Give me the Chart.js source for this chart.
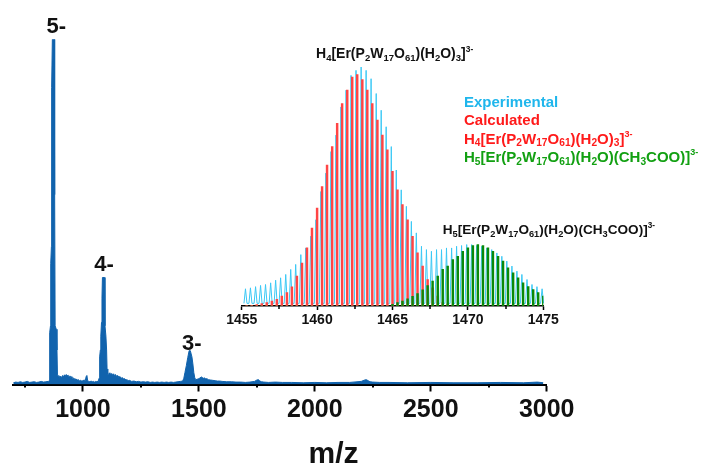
<!DOCTYPE html>
<html><head><meta charset="utf-8">
<script src="https://cdn.jsdelivr.net/npm/chart.js@4.4.1/dist/chart.umd.min.js"></script>
<style>
html,body{margin:0;padding:0;background:#fff;}
#wrap{position:relative;width:707px;height:465px;overflow:hidden;background:#fff;}
#main{position:absolute;left:0;top:0;width:707px;height:465px;}
#inset{position:absolute;left:215px;top:40px;width:360px;height:300px;}
.f{position:absolute;font-family:"Liberation Sans",Arial,sans-serif;font-weight:bold;white-space:nowrap;}
.f .sb{position:relative;font-size:0.68em;top:0.28em;line-height:1;}
.f .sp{position:relative;font-size:0.6em;top:-0.75em;line-height:1;}
</style></head><body>
<div id="wrap">
<canvas id="main" width="707" height="465"></canvas>
<canvas id="inset" width="360" height="300"></canvas>
</div>
<script>
// ---- main spectrum (m/z, relative intensity %) ----
const specMz = [700,710,720,730,740,750,760,770,780,790,800,810,820,830,840,850,854,856,857,860,861,864,865,868,876,878,880,885,888,890,893,896,900,904,908,912,916,920,924,928,932,936,940,944,948,952,956,960,965,970,975,980,985,990,995,1000,1005,1010,1014,1017,1020,1025,1030,1035,1040,1045,1050,1055,1060,1065,1068,1071,1072,1075,1077,1080,1082,1084,1093,1095,1099,1102,1104,1107,1112,1116,1120,1124,1128,1132,1136,1140,1145,1150,1155,1160,1165,1170,1175,1180,1185,1190,1195,1200,1210,1220,1230,1240,1250,1260,1270,1280,1290,1300,1310,1320,1330,1340,1350,1360,1370,1380,1390,1400,1410,1420,1430,1435,1440,1446,1452,1458,1463,1470,1474,1478,1482,1486,1492,1500,1505,1510,1515,1520,1525,1530,1535,1540,1550,1560,1570,1580,1590,1600,1620,1640,1660,1680,1700,1720,1740,1750,1757,1763,1770,1780,1800,1830,1860,1900,1950,2000,2050,2100,2150,2200,2215,2222,2230,2238,2250,2280,2320,2400,2500,2600,2700,2800,2900,2960,2985,3000];
const specInt = [0.5,0.7,0.6,0.8,0.6,0.7,0.9,0.6,0.7,0.8,0.6,0.7,0.9,0.7,0.8,0.9,1.0,3,15,17,35,40,86,100,100,55,17,16,10,3,2.2,2.6,2.0,2.4,2.0,2.6,2.2,2.8,2.4,2.9,2.5,2.7,2.2,2.5,1.9,2.3,1.7,1.9,1.5,1.6,1.3,1.4,1.1,1.2,1.0,1.1,1.3,1.1,2.4,2.6,1.2,0.9,0.8,1.0,0.8,0.9,0.7,0.9,0.8,0.9,0.9,2,8,10,14,18,25,31,31,17,14,10,4.5,3,3.0,3.4,2.8,3.2,2.7,3.1,2.6,2.9,2.4,2.6,2.1,2.3,1.8,2.0,1.6,1.7,1.3,1.4,1.1,1.2,0.9,1.0,0.8,0.9,0.7,0.8,0.7,0.8,0.6,0.7,0.6,0.7,0.6,0.7,0.6,0.7,0.6,0.7,0.6,0.7,0.8,0.9,1.0,1.8,3.5,5.5,7.8,9.8,9.8,8,6,3.5,2.0,1.4,1.5,1.7,1.9,2.2,2.0,1.8,1.9,1.6,1.7,1.4,1.3,1.2,1.1,1.0,1.0,0.9,0.8,0.8,0.7,0.7,0.6,0.7,0.9,1.3,1.4,1.0,0.8,0.7,0.6,0.7,0.6,0.6,0.5,0.6,0.5,0.6,0.6,0.9,1.3,1.4,1.1,0.8,0.7,0.6,0.6,0.5,0.6,0.5,0.5,0.6,0.5,0.7,0.5];
const majorTicks = [1000,1500,2000,2500,3000];
const minorTicks = [750,1250,1750,2250,2750];
const peakLabels = ['5-','4-','3-'];
const peakLabelMz = [885,1091,1469];

// ---- inset: isotopic pattern ----
const isoMz = [1455.25,1455.58,1455.92,1456.25,1456.58,1456.92,1457.25,1457.58,1457.92,1458.25,1458.58,1458.92,1459.25,1459.58,1459.92,1460.25,1460.58,1460.92,1461.25,1461.58,1461.92,1462.25,1462.58,1462.92,1463.25,1463.58,1463.92,1464.25,1464.58,1464.92,1465.25,1465.58,1465.92,1466.25,1466.58,1466.92,1467.25,1467.58,1467.92,1468.25,1468.58,1468.92,1469.25,1469.58,1469.92,1470.25,1470.58,1470.92,1471.25,1471.58,1471.92,1472.25,1472.58,1472.92,1473.25,1473.58,1473.92,1474.25,1474.58,1474.92];
const expInt = [7.2,7.6,8.1,8.6,9.0,9.7,10.8,11.8,13.2,15.3,17.4,21.5,24.3,29.2,36.1,47.9,55.6,64.6,71.5,83.3,90.3,96.5,98.6,100,98.6,95.1,88.9,81.9,75.0,66.7,56.9,48.6,41.7,35.4,30.6,25.0,23.6,22.9,23.6,23.6,24.3,24.3,25.0,25.3,25.7,25.7,25.3,25.0,24.3,23.6,22.2,20.8,18.8,16.7,14.6,13.2,11.1,9.0,8.1,7.2];
const calcH4 = [0.2,0.3,0.6,1.0,1.4,2.1,2.8,4.2,5.6,8.0,12.5,18.0,24.3,32.6,41.0,50.0,59.0,66.7,76.4,84.7,90.3,95.8,96.8,94.7,90.3,84.7,77.8,71.5,65.3,56.3,48.6,42.4,36.1,29.2,22.2,16.7,11.1,7.6,4.2,1.4,0.8,0.4,0,0,0,0,0,0,0,0,0,0,0,0,0,0,0,0,0,0];
const calcH5 = [0,0,0,0,0,0,0,0,0,0,0,0,0,0,0,0,0,0,0,0,0,0,0,0,0,0,0,0,0,0.7,1.4,2.1,3.0,4.0,5.2,6.8,8.5,10.4,12.5,15.3,16.7,19.4,20.8,22.9,24.3,25.3,25.7,25.3,24.3,22.9,20.8,18.8,16.0,13.9,11.8,9.7,8.1,6.9,5.6,4.2];
const insetMajor = [1455,1460,1465,1470,1475];
const insetMinor = [1457.5,1462.5,1467.5,1472.5];

const titleH4 = 'H_4[Er(P_2W_17O_61)(H_2O)_3]^3-';
const titleH5 = 'H_5[Er(P_2W_17O_61)(H_2O)(CH_3COO)]^3-';
const legendTexts = ['Experimental','Calculated',titleH4,titleH5];

const FONT = '"Liberation Sans", Arial, sans-serif';

const minorTickPlugin = {
  id:'minorTicks',
  afterDraw(chart, args, o){
    const xs = chart.scales.x, ctx = chart.ctx, y0 = chart.chartArea.bottom;
    ctx.save(); ctx.strokeStyle = o.color; ctx.lineWidth = o.width;
    o.values.forEach(v=>{
      const px = Math.round(xs.getPixelForValue(v));
      ctx.beginPath(); ctx.moveTo(px, y0); ctx.lineTo(px, y0 + o.length); ctx.stroke();
    });
    ctx.restore();
  }
};

const peakLabelPlugin = {
  id:'peakLabels',
  afterDatasetsDraw(chart, args, o){
    const xs = chart.scales.x, ys = chart.scales.y, ctx = chart.ctx;
    ctx.save();
    ctx.fillStyle = '#111'; ctx.textAlign = 'center'; ctx.textBaseline = 'alphabetic';
    ctx.font = 'bold 22px ' + FONT;
    peakLabels.forEach((t,i)=>{
      const m = peakLabelMz[i];
      let top = 0;
      specMz.forEach((x,j)=>{ if (Math.abs(x - m) <= 20) top = Math.max(top, specInt[j]); });
      ctx.fillText(t, xs.getPixelForValue(m), ys.getPixelForValue(top) - o.gaps[i]);
    });
    ctx.font = 'bold 30px ' + FONT;
    ctx.fillText('m/z', o.titleX, o.titleY);
    ctx.restore();
  }
};

new Chart(document.getElementById('main'), {
  type:'line',
  data:{datasets:[{
    data: specMz.map((x,i)=>({x:x, y:specInt[i]})),
    borderColor:'#1163ad', backgroundColor:'#1163ad', borderWidth:1,
    pointRadius:0, fill:'origin', tension:0
  }]},
  options:{
    responsive:false, animation:false, devicePixelRatio:1,
    layout:{padding:{left:12.7, right:160.3, top:39.3, bottom:35.5}},
    plugins:{
      legend:{display:false}, tooltip:{enabled:false},
      minorTicks:{values:minorTicks, length:3, width:2, color:'#000'},
      peakLabels:{gaps:[6,6.5,0.5], titleX:333.5, titleY:463}
    },
    scales:{
      x:{type:'linear', min:697, max:3000,
        afterBuildTicks:s=>{ s.ticks = majorTicks.map(v=>({value:v})); },
        ticks:{font:{family:FONT, size:25, weight:'bold'}, color:'#111', padding:4, maxRotation:0, autoSkip:false, callback:v=>String(v)},
        grid:{display:true, drawOnChartArea:false, drawTicks:true, tickLength:7, tickWidth:2, tickColor:'#000'},
        border:{display:true, color:'#000', width:2}
      },
      y:{display:false, min:0, max:100}
    }
  },
  plugins:[minorTickPlugin, peakLabelPlugin]
});

const expLine = [];
isoMz.forEach((m,k)=>{
  expLine.push({x:m-0.1, y:1.1});
  expLine.push({x:m, y:expInt[k]});
  expLine.push({x:m+0.1, y:1.1});
});

new Chart(document.getElementById('inset'), {
  type:'bar',
  data:{datasets:[
    {type:'bar', data: isoMz.map((m,k)=>({x:m+0.08, y:calcH5[k]})), backgroundColor:'#0a8a0a', barThickness:1.8, grouped:false, order:0},
    {type:'bar', data: isoMz.map((m,k)=>({x:m+0.08, y:calcH4[k]})), backgroundColor:'#ff4545', barThickness:1.8, grouped:false, order:1},
    {type:'line', data: expLine, borderColor:'#3ac8f5', borderWidth:1, pointRadius:0, fill:false, tension:0, order:2, clip:false}
  ]},
  options:{
    responsive:false, animation:false, devicePixelRatio:1,
    layout:{padding:{left:26.7, right:31.7, top:27, bottom:9.2}},
    plugins:{legend:{display:false}, tooltip:{enabled:false},
      minorTicks:{values:insetMinor, length:3, width:1.5, color:'#000'}},
    scales:{
      x:{type:'linear', min:1455, max:1475, offset:false,
        afterBuildTicks:s=>{ s.ticks = insetMajor.map(v=>({value:v})); },
        ticks:{font:{family:FONT, size:14, weight:'bold'}, color:'#111', padding:2, maxRotation:0, autoSkip:false, callback:v=>String(v)},
        grid:{display:true, offset:false, drawOnChartArea:false, drawTicks:true, tickLength:4, tickWidth:1.5, tickColor:'#000'},
        border:{display:true, color:'#000', width:1.5}
      },
      y:{display:false, min:0, max:100}
    }
  },
  plugins:[minorTickPlugin]
});

// ---- text with sub/superscripts ----
function addFormula(parent, str){
  let i = 0;
  while (i < str.length){
    const c = str[i];
    if (c === '_' || c === '^'){
      let j = i + 1;
      while (j < str.length && /[0-9+\-]/.test(str[j])) j++;
      const s = document.createElement('span');
      s.className = c === '_' ? 'sb' : 'sp';
      s.textContent = str.slice(i+1, j);
      parent.appendChild(s); i = j;
    } else {
      let j = i;
      while (j < str.length && str[j] !== '_' && str[j] !== '^') j++;
      parent.appendChild(document.createTextNode(str.slice(i, j))); i = j;
    }
  }
}
function place(str, left, baseline, size, color){
  const d = document.createElement('div');
  d.className = 'f';
  d.style.left = left + 'px';
  d.style.top = (baseline - 0.8465*size) + 'px';
  d.style.fontSize = size + 'px';
  d.style.lineHeight = size + 'px';
  d.style.color = color;
  addFormula(d, str);
  document.getElementById('wrap').appendChild(d);
}
place(titleH4, 316, 58.3, 14, '#111');
place(titleH5, 442.7, 235, 13.6, '#111');
const legendColors = ['#1fb6ec','#ff1a1a','#ff1a1a','#12a012'];
const legendBase = [106.7,125,143.3,161.7];
legendTexts.forEach((t,i)=>place(t, 464, legendBase[i], 15, legendColors[i]));
</script>
</body></html>
